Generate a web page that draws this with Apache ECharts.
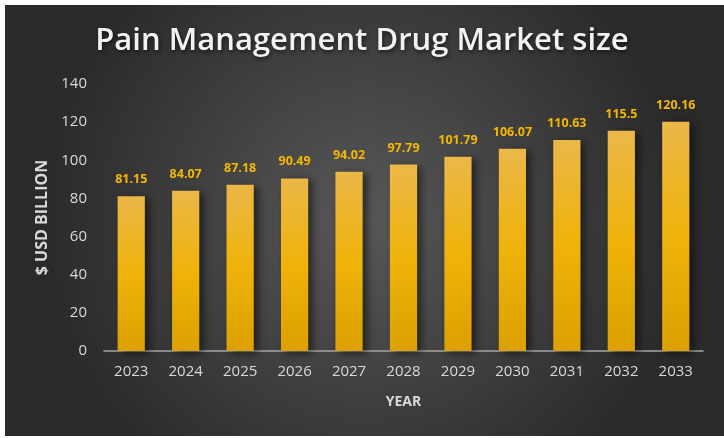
<!DOCTYPE html>
<html><head><meta charset="utf-8">
<script src="https://cdn.jsdelivr.net/npm/echarts@6/dist/echarts.min.js"></script>
<style>html,body{margin:0;padding:0;background:#fff;}#c{width:724px;height:438px;}</style>
</head><body><div id="c"></div>
<script>
const years = ['2023','2024','2025','2026','2027','2028','2029','2030','2031','2032','2033'];
const values = [81.15, 84.07, 87.18, 90.49, 94.02, 97.79, 101.79, 106.07, 110.63, 115.5, 120.16];
const yTicks = [0, 20, 40, 60, 80, 100, 120, 140];

const chart = echarts.init(document.getElementById('c'), null, {renderer: 'canvas'});
chart.setOption({
  backgroundColor: '#ffffff',
  animation: false,
  graphic: [{
    type: 'rect', z: -10, silent: true,
    shape: {x: 5, y: 5, width: 719, height: 431},
    style: {fill: new echarts.graphic.RadialGradient(0.5, 0.5, 0.75, [
      {offset: 0, color: '#585858'}, {offset: 1, color: '#2a2a2a'}])}
  }],
  title: {
    text: 'Pain Management Drug Market size',
    left: 'center', top: 21,
    textStyle: {color: '#f2f2f2', fontFamily: 'Open Sans', fontWeight: 600, fontSize: 31,
      textShadowColor: 'rgba(0,0,0,0.6)', textShadowBlur: 4, textShadowOffsetX: 1, textShadowOffsetY: 2}
  },
  grid: {left: 104, right: 21, top: 84, bottom: 87},
  xAxis: {
    type: 'category', data: years,
    name: 'YEAR', nameLocation: 'middle', nameGap: 44,
    nameTextStyle: {color: '#d9d9d9', fontFamily: 'Open Sans', fontWeight: 'bold', fontSize: 14},
    axisLine: {lineStyle: {color: '#a6a6a6', width: 1.5}},
    axisTick: {show: false},
    axisLabel: {color: '#d9d9d9', fontFamily: 'Open Sans', fontSize: 15, margin: 13}
  },
  yAxis: {
    type: 'value', min: yTicks[0], max: yTicks[yTicks.length - 1], interval: 20,
    name: '$ USD BILLION', nameLocation: 'middle', nameGap: 53,
    nameTextStyle: {color: '#d9d9d9', fontFamily: 'Open Sans', fontWeight: 'bold', fontSize: 16},
    axisLine: {show: false}, axisTick: {show: false}, splitLine: {show: false},
    axisLabel: {color: '#d9d9d9', fontFamily: 'Open Sans', fontSize: 15, margin: 17}
  },
  series: [{
    type: 'bar', data: values, barWidth: '50%',
    itemStyle: {
      color: new echarts.graphic.LinearGradient(0, 0, 0, 1, [
        {offset: 0, color: '#ebb748'}, {offset: 0.5, color: '#efb30a'}, {offset: 1, color: '#dca000'}]),
      shadowColor: 'rgba(0,0,0,0.55)', shadowBlur: 8, shadowOffsetX: 4, shadowOffsetY: 2
    },
    label: {show: true, position: 'top', distance: 10, color: '#f5b800',
      fontFamily: 'Open Sans', fontWeight: 'bold', fontSize: 12.5}
  }]
});
</script></body></html>
